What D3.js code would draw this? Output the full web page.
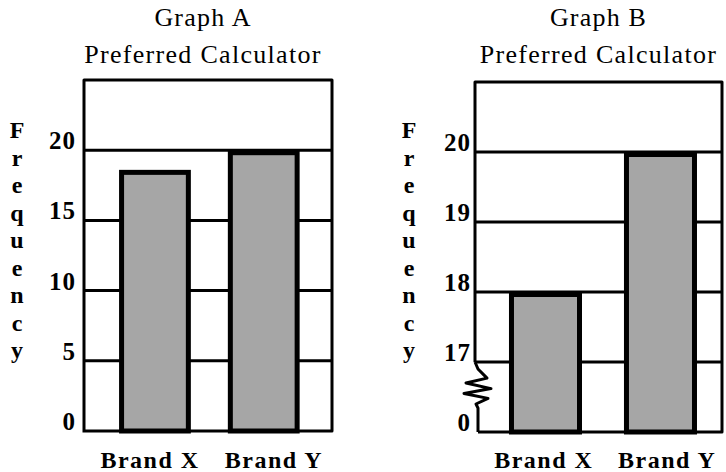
<!DOCTYPE html>
<html>
<head>
<meta charset="utf-8">
<script src="https://cdn.jsdelivr.net/npm/d3@7"></script>
<style>
  html, body { margin: 0; padding: 0; background: #fff; }
  svg { display: block; }
  text { font-family: "Liberation Serif", "Times New Roman", serif; fill: #000; }
</style>
</head>
<body>
<svg id="chart" width="726" height="472"></svg>
<script>
// ---- data ----
const categories = ["Brand X", "Brand Y"];
const graphAValues = [18.6, 20];
const graphBValues = [18, 20];
const graphATicks = [0, 5, 10, 15, 20];
const graphBTicks = [0, 17, 18, 19, 20];
const titleLine1 = ["Graph A", "Graph B"];
const titleLine2 = "Preferred Calculator";
const yAxisLabel = "Frequency";

const svg = d3.select("#chart");
svg.append("rect").attr("width", 726).attr("height", 472).attr("fill", "#fff");

const barFill = "#a6a6a6";

function drawGraph(cfg) {
  const g = svg.append("g");
  const { x0, x1, yTop, yBottom } = cfg;
  const y = d3.scaleLinear().domain(cfg.yDomain).range(cfg.yRange);
  const x = d3.scaleBand().domain(categories).range([x0, x1])
    .paddingInner(cfg.pIn).paddingOuter(cfg.pOut).align(cfg.align);
  const xl = d3.scalePoint().domain(categories)
    .range([x0 + cfg.labelShift, x1 + cfg.labelShift]).padding(0.5);

  // titles
  const cx = (x0 + x1) / 2 + cfg.titleDx;
  g.append("text").attr("x", cx).attr("y", 26).attr("text-anchor", "middle")
    .style("font-size", "26px").style("letter-spacing", "1.2px").text(cfg.title);
  g.append("text").attr("x", cx).attr("y", 63).attr("text-anchor", "middle")
    .style("font-size", "26px").style("letter-spacing", "1.3px").text(titleLine2);

  // gridlines
  g.selectAll("line.grid").data(cfg.ticks.filter(t => t !== 0)).enter()
    .append("line").attr("class", "grid")
    .attr("x1", x0).attr("x2", x1)
    .attr("y1", d => y(d)).attr("y2", d => y(d))
    .attr("stroke", "#000").attr("stroke-width", 3);

  // bars
  const sw = 5;
  g.selectAll("rect.bar").data(cfg.values).enter()
    .append("rect").attr("class", "bar")
    .attr("x", (d, i) => x(categories[i]) + sw / 2)
    .attr("width", x.bandwidth() - sw)
    .attr("y", d => y(d) + sw / 2)
    .attr("height", d => y(0) - y(d) - sw / 2)
    .attr("fill", barFill).attr("stroke", "#000").attr("stroke-width", sw);

  // frame
  const frame = d3.path();
  if (cfg.breakAt == null) {
    frame.moveTo(x0, yBottom); frame.lineTo(x0, yTop); frame.lineTo(x1, yTop);
    frame.lineTo(x1, yBottom); frame.lineTo(x0 - 1.5, yBottom);
  } else {
    frame.moveTo(x0, y(cfg.breakAt)); frame.lineTo(x0, yTop); frame.lineTo(x1, yTop);
    frame.lineTo(x1, yBottom); frame.lineTo(x0 + 3, yBottom);
  }
  g.append("path").attr("d", frame.toString()).attr("fill", "none")
    .attr("stroke", "#000").attr("stroke-width", 3).attr("stroke-linejoin", "round");

  if (cfg.breakAt != null) {
    const ya = y(cfg.breakAt), yb = y(0), h = yb - ya;
    const zig = [[0, 0], [3, .1], [12, .23], [-9, .30], [16, .38], [-11, .45], [13, .52], [1, .60], [3, .66], [3, 1]];
    const line = d3.line().x(d => x0 + d[0]).y(d => ya + d[1] * h);
    g.append("path").attr("d", line(zig)).attr("fill", "none")
      .attr("stroke", "#000").attr("stroke-width", 3).attr("stroke-linejoin", "round");
  }

  // tick labels
  g.selectAll("text.tick").data(cfg.ticks).enter()
    .append("text").attr("class", "tick")
    .attr("x", x0 - cfg.tickGap).attr("y", d => y(d) - 1)
    .attr("text-anchor", "end")
    .style("font-size", "25px").style("font-weight", "bold").style("letter-spacing", "1px")
    .text(d => d);

  // category labels
  g.selectAll("text.cat").data(categories).enter()
    .append("text").attr("class", "cat")
    .attr("x", d => xl(d)).attr("y", 468)
    .attr("text-anchor", "middle")
    .style("font-size", "24px").style("font-weight", "bold").style("letter-spacing", "1.5px")
    .text(d => d);

  // vertical y-axis label, stacked letters
  g.selectAll("text.ylab").data(yAxisLabel.split("")).enter()
    .append("text").attr("class", "ylab")
    .attr("x", x0 - cfg.labelDx).attr("y", (d, i) => 138 + i * 27.5)
    .attr("text-anchor", "middle")
    .style("font-size", "24px").style("font-weight", "bold").text(d => d);
}

drawGraph({
  title: titleLine1[0], values: graphAValues, ticks: graphATicks,
  x0: 84, x1: 332, yTop: 80, yBottom: 431,
  yDomain: [0, 25], yRange: [431, 80],
  pIn: 0.34, pOut: 0.31, align: 0.52, labelShift: 4,
  titleDx: -5, tickGap: 8, labelDx: 67, breakAt: null
});

drawGraph({
  title: titleLine1[1], values: graphBValues, ticks: graphBTicks,
  x0: 475, x1: 722, yTop: 82, yBottom: 432,
  yDomain: [0, 17, 21], yRange: [432, 362, 82],
  pIn: 0.365, pOut: 0.2565, align: 0.576, labelShift: 7,
  titleDx: 0, tickGap: 4, labelDx: 66, breakAt: 17
});
</script>
</body>
</html>
